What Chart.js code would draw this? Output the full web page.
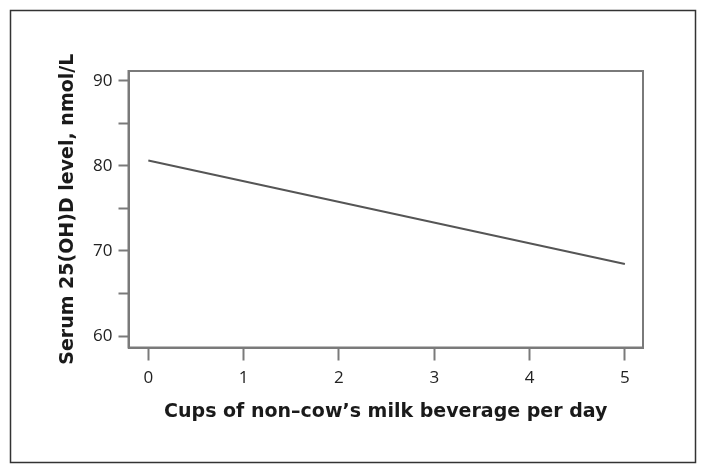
<!DOCTYPE html>
<html>
<head>
<meta charset="utf-8">
<script src="https://cdn.jsdelivr.net/npm/chart.js@4"></script>
<style>
  html, body { margin: 0; padding: 0; background: #fff; }
  #wrap { width: 706px; height: 473px; position: relative; }
</style>
</head>
<body>
<div id="wrap"><canvas id="c" width="706" height="473"></canvas></div>
<script>
const cupsPerDay = [0, 5];
const serumLevel = [80.62, 68.47];
const xTickValues = [0, 1, 2, 3, 4, 5];
const yTickValues = [60, 65, 70, 75, 80, 85, 90];
const yLabeledTicks = [60, 70, 80, 90];
const xTitle = 'Cups of non\u2013cow\u2019s milk beverage per day';
const yTitle = 'Serum 25(OH)D level, nmol/L';

const FONT = '"Open Sans", "Noto Sans", sans-serif';
const TITLE_FONT = '"DejaVu Sans", "Open Sans", sans-serif';
const AXIS = '#7a7a7a';

const frame = {
  id: 'frame',
  afterDraw(chart) {
    const ctx = chart.ctx;
    const a = chart.chartArea;
    ctx.save();
    ctx.strokeStyle = AXIS;
    ctx.lineWidth = 2;
    ctx.strokeRect(a.left, a.top, a.right - a.left, a.bottom - a.top);
    ctx.strokeStyle = '#333';
    ctx.lineWidth = 1.5;
    ctx.strokeRect(10.5, 10.5, 685, 452);
    ctx.restore();
  }
};

new Chart(document.getElementById('c'), {
  type: 'line',
  data: {
    datasets: [{
      data: cupsPerDay.map((x, i) => ({ x: x, y: serumLevel[i] })),
      borderColor: '#555',
      borderWidth: 2,
      pointRadius: 0,
      fill: false,
      tension: 0
    }]
  },
  options: {
    responsive: false,
    animation: false,
    devicePixelRatio: 1,
    layout: { padding: { left: 0, top: 71, right: 63, bottom: 0 } },
    plugins: { legend: { display: false }, tooltip: { enabled: false } },
    scales: {
      x: {
        type: 'linear',
        min: -0.208,
        max: 5.19,
        afterBuildTicks: s => { s.ticks = xTickValues.map(v => ({ value: v })); },
        afterFit: s => { s.height = 125.5; },
        grid: { drawOnChartArea: false, drawTicks: true, tickLength: 13, color: AXIS, tickWidth: 2 },
        border: { display: true, color: AXIS, width: 2 },
        ticks: { color: '#222', font: { family: FONT, size: 17 }, padding: 7, maxRotation: 0 },
        title: {
          display: true, text: xTitle, color: '#1a1a1a',
          font: { family: TITLE_FONT, size: 19, weight: 'bold' },
          padding: { top: 0, bottom: 50 }
        }
      },
      y: {
        type: 'linear',
        min: 58.65,
        max: 91.14,
        afterBuildTicks: s => { s.ticks = yTickValues.map(v => ({ value: v })); },
        afterFit: s => { s.width = 128.5; },
        grid: { drawOnChartArea: false, drawTicks: true, tickLength: 10, color: AXIS, tickWidth: 2 },
        border: { display: true, color: AXIS, width: 2 },
        ticks: {
          color: '#222', font: { family: FONT, size: 17 }, padding: 6,
          callback: v => yLabeledTicks.includes(v) ? String(v) : ''
        },
        title: {
          display: true, text: yTitle, color: '#1a1a1a',
          font: { family: TITLE_FONT, size: 19, weight: 'bold' },
          padding: { top: 57, bottom: 0 }
        }
      }
    }
  },
  plugins: [frame]
});
</script>
</body>
</html>
